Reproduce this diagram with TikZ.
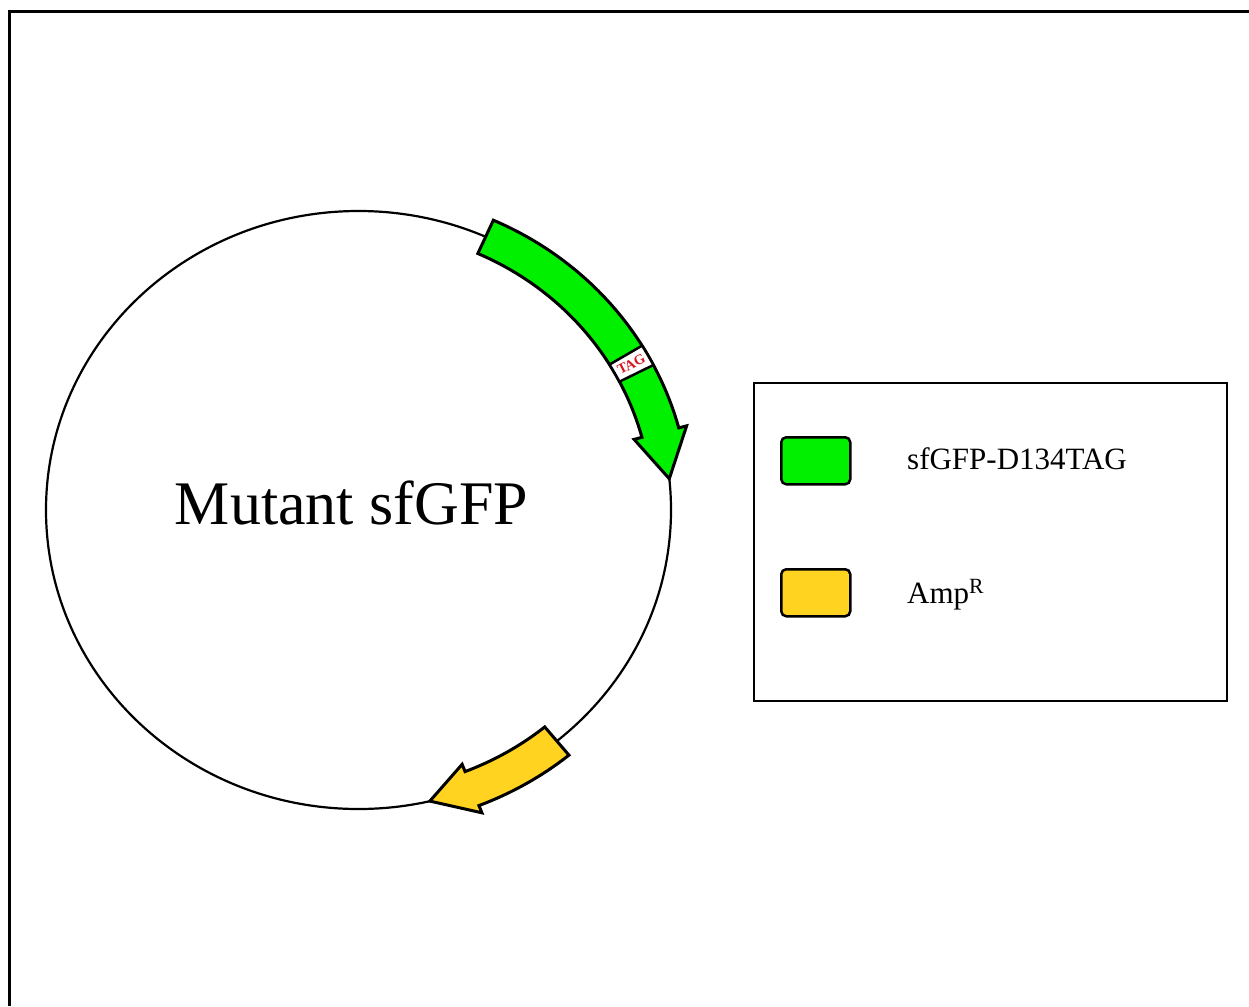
\documentclass[tikz,border=0pt]{standalone}
\usepackage{fontspec}
\setmainfont{Liberation Serif}
\newfontfamily\plasfont{Liberation Serif}
\usetikzlibrary{shapes.geometric}
\definecolor{gfpgreen}{RGB}{0,240,0}
\definecolor{ampyellow}{RGB}{255,211,32}
\definecolor{tagred}{RGB}{215,20,30}
\begin{document}
\begin{tikzpicture}[x=1pt,y=-1pt,
  genearrow/.style={draw=black, line width=3pt, line join=miter},
  swatch/.style={draw=black, line width=2.5pt, rounded corners=5pt, minimum width=69pt, minimum height=47pt, inner sep=0pt, anchor=north west},
  legendbox/.style={draw=black, line width=2pt, minimum width=473pt, minimum height=318pt, inner sep=0pt, anchor=north west},
  legendtext/.style={anchor=base west, inner sep=0pt, font=\plasfont\fontsize{31}{37}\selectfont}]
\useasboundingbox (0,0) rectangle (1249,1006);
% outer frame (only top and left edges visible)
\draw[line width=3pt] (1249,12) -- (9,12) -- (9,1006);
% plasmid
\node[ellipse, draw=black, line width=2.2pt, minimum width=625pt, minimum height=598pt, inner sep=0pt] (plasmid) at (358.5,510) {};
\node[anchor=base, inner sep=0pt, font=\plasfont\fontsize{62}{70}\selectfont] (title) at (351.5,524) {Mutant sfGFP};
% gene arrows in ellipse-parametric coordinates
\begin{scope}[shift={(358.5,510)}, x=312.5pt, y=299pt]
  \def\w{0.061}\def\h{0.087}
  % sfGFP-D134TAG
  \draw[genearrow, fill=gfpgreen]
    (66:1+\w) arc[start angle=66, end angle=15, radius=1+\w]
    -- (15:1+\h) -- (6:1) -- (15:1-\h) -- (15:1-\w)
    arc[start angle=15, end angle=66, radius=1-\w] -- cycle;
  \draw[draw=black, line width=2.5pt, fill=white]
    (31.2:1+\w) arc[start angle=31.2, end angle=27.2, radius=1+\w]
    -- (27.2:1-\w) arc[start angle=27.2, end angle=31.2, radius=1-\w] -- cycle;
  \node[rotate=27, inner sep=0pt, text=tagred, font=\plasfont\bfseries\fontsize{14}{14}\selectfont] (tag) at (29.2:1) {TAG};
  % AmpR
  \draw[genearrow, fill=ampyellow]
    (-50.6:1+\w) arc[start angle=-50.6, end angle=-68.7, radius=1+\w]
    -- (-68.7:1+\h) -- (-76.8:1) -- (-68.7:1-\h) -- (-68.7:1-\w)
    arc[start angle=-68.7, end angle=-50.6, radius=1-\w] -- cycle;
\end{scope}
% legend
\node[legendbox] (legend) at (753,382) {};
\node[swatch, fill=gfpgreen] (swgfp) at (780,436) {};
\node[swatch, fill=ampyellow] (swamp) at (780,568) {};
\node[legendtext] (lgfp) at (907,469) {sfGFP-D134TAG};
\node[legendtext] (lamp) at (907,603) {Amp\textsuperscript{R}};
\end{tikzpicture}
\end{document}
